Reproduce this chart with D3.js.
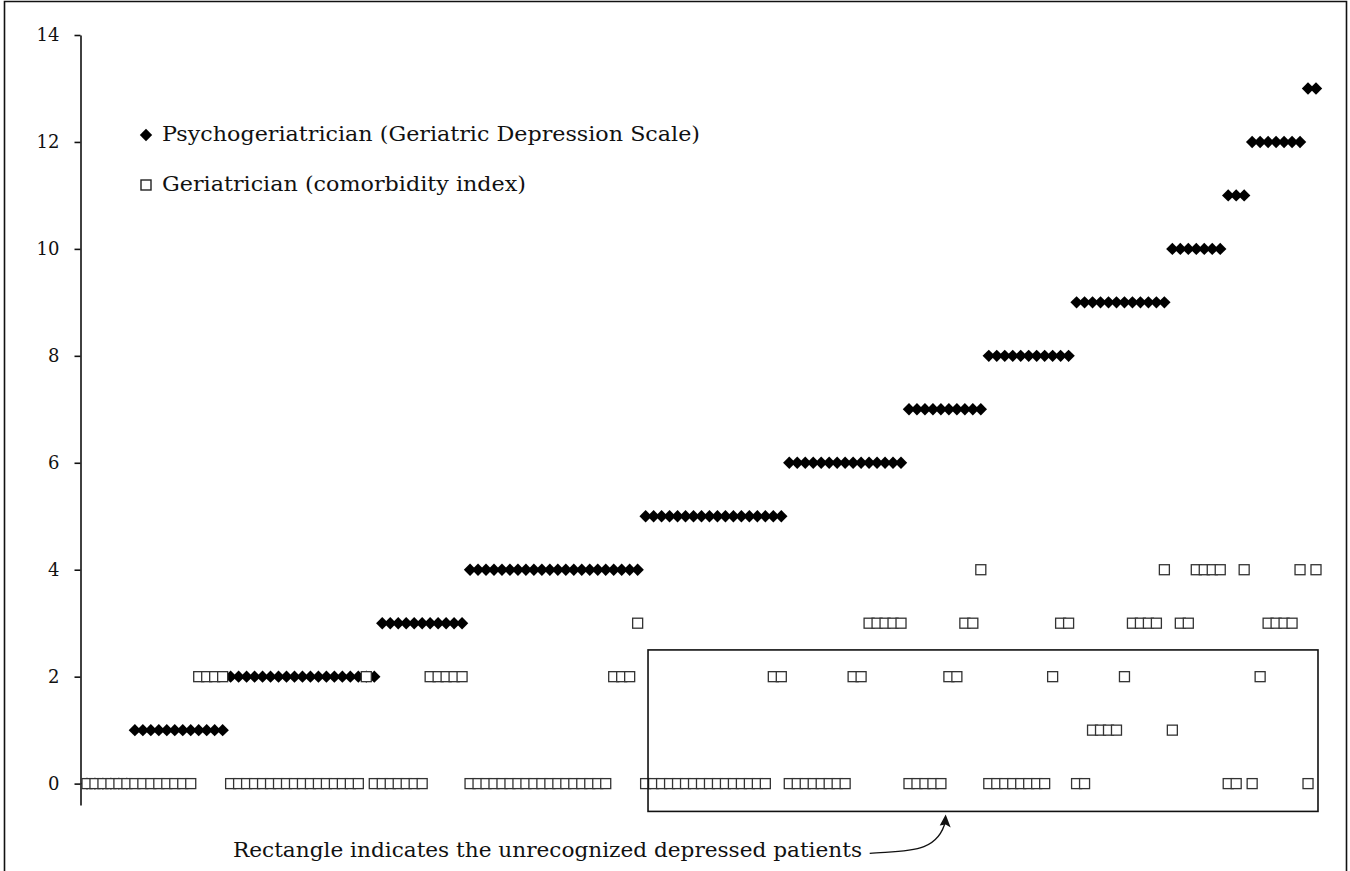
<!DOCTYPE html>
<html>
<head>
<meta charset="utf-8">
<script src="https://cdn.jsdelivr.net/npm/d3@7"></script>
<style>
  body { margin: 0; background: #fff; }
  svg { display: block; }
  text { font-family: "DejaVu Serif", "Liberation Serif", serif; fill: #111; }
</style>
</head>
<body>
<svg id="chart" width="1350" height="871"></svg>
<script>
// Y axis tick values
const yTicks = [0, 2, 4, 6, 8, 10, 12, 14];

// Geriatric Depression Scale score per patient (sorted ascending), patients 1..155
const gdsScores = [
  0,0,0,0,0,0,
  1,1,1,1,1,1,1,1,1,1,1,1,
  2,2,2,2,2,2,2,2,2,2,2,2,2,2,2,2,2,2,2,
  3,3,3,3,3,3,3,3,3,3,3,
  4,4,4,4,4,4,4,4,4,4,4,4,4,4,4,4,4,4,4,4,4,4,
  5,5,5,5,5,5,5,5,5,5,5,5,5,5,5,5,5,5,
  6,6,6,6,6,6,6,6,6,6,6,6,6,6,6,
  7,7,7,7,7,7,7,7,7,7,
  8,8,8,8,8,8,8,8,8,8,8,
  9,9,9,9,9,9,9,9,9,9,9,9,
  10,10,10,10,10,10,10,
  11,11,11,
  12,12,12,12,12,12,12,
  13,13
];

// Comorbidity index per patient, same patient order
const comorbidityIndex = [
  0,0,0,0,0,0,0,0,0,0,0,0,0,0,
  2,2,2,2,
  0,0,0,0,0,0,0,0,0,0,0,0,0,0,0,0,0,
  2,
  0,0,0,0,0,0,0,
  2,2,2,2,2,
  0,0,0,0,0,0,0,0,0,0,0,0,0,0,0,0,0,0,
  2,2,2,
  3,
  0,0,0,0,0,0,0,0,0,0,0,0,0,0,0,0,
  2,2,
  0,0,0,0,0,0,0,0,
  2,2,
  3,3,3,3,3,
  0,0,0,0,0,
  2,2,
  3,3,
  4,
  0,0,0,0,0,0,0,0,
  2,
  3,3,
  0,0,
  1,1,1,1,
  2,
  3,3,3,3,
  4,
  1,
  3,3,
  4,4,4,4,
  0,0,
  4,
  0,
  2,
  3,3,3,3,
  4,
  0,
  4
];

const legendLabels = [
  "Psychogeriatrician (Geriatric Depression Scale)",
  "Geriatrician (comorbidity index)"
];
const noteText = "Rectangle indicates the unrecognized depressed patients";

// Annotation box around the unrecognized depressed patients (patient number / score units)
const boxPatientFrom = 71.3;
const boxPatientTo = 155.25;
const boxScoreLow = -0.52;
const boxScoreHigh = 2.5;

const svg = d3.select("#chart");
const W = 1350, H = 871;

// page frame
svg.append("path")
  .attr("d", `M4.5,${H + 2} V1.5 H1346.5 V${H + 2}`)
  .attr("fill", "none").attr("stroke", "#111").attr("stroke-width", 1.6);

const patients = gdsScores.map((g, i) => ({ n: i + 1, gds: g, com: comorbidityIndex[i] }));

const x = d3.scaleLinear().domain([0, patients.length]).range([79, 1316]);
const y = d3.scaleLinear().domain([-0.4, 14]).range([805, 35]);

// y axis
const yAxis = d3.axisLeft(y).tickValues(yTicks).tickSize(6).tickSizeOuter(0).tickPadding(15);
const gy = svg.append("g").attr("transform", "translate(80.5,0)").call(yAxis);
gy.select(".domain").attr("stroke", "#111").attr("stroke-width", 1.6);
gy.selectAll(".tick line").attr("stroke", "#111").attr("stroke-width", 1.6);
gy.selectAll(".tick text")
  .attr("font-family", "DejaVu Serif, serif")
  .attr("font-size", 18).attr("fill", "#111");

// marker shapes
const diamond = (r) => `M0,${-r}L${r},0L0,${r}L${-r},0Z`;
const sq = 10;

// GDS diamonds
svg.append("g").selectAll("path")
  .data(patients).join("path")
  .attr("transform", d => `translate(${x(d.n)},${y(d.gds)})`)
  .attr("d", diamond(6.2))
  .attr("fill", "#000");

// comorbidity squares, drawn on top
svg.append("g").selectAll("rect")
  .data(patients).join("rect")
  .attr("x", d => x(d.n) - sq / 2)
  .attr("y", d => y(d.com) - sq / 2)
  .attr("width", sq).attr("height", sq)
  .attr("fill", "#fff").attr("stroke", "#333").attr("stroke-width", 1.3);

// annotation rectangle
svg.append("rect")
  .attr("x", x(boxPatientFrom))
  .attr("y", y(boxScoreHigh))
  .attr("width", x(boxPatientTo) - x(boxPatientFrom))
  .attr("height", y(boxScoreLow) - y(boxScoreHigh))
  .attr("fill", "none").attr("stroke", "#111").attr("stroke-width", 1.6);

// legend
const legend = svg.append("g");
legend.append("path").attr("transform", "translate(146,135)").attr("d", diamond(6.2)).attr("fill", "#000");
legend.append("rect").attr("x", 141).attr("y", 180).attr("width", sq).attr("height", sq)
  .attr("fill", "#fff").attr("stroke", "#222").attr("stroke-width", 1.4);
legend.append("text").attr("x", 162).attr("y", 141).attr("font-size", 20)
  .attr("textLength", 538).attr("lengthAdjust", "spacingAndGlyphs").text(legendLabels[0]);
legend.append("text").attr("x", 162).attr("y", 191).attr("font-size", 20)
  .attr("textLength", 364).attr("lengthAdjust", "spacingAndGlyphs").text(legendLabels[1]);

// note with curved arrow pointing at the rectangle
svg.append("text").attr("x", 233).attr("y", 857).attr("font-size", 20)
  .attr("textLength", 629).attr("lengthAdjust", "spacingAndGlyphs").text(noteText);
const tipX = x(108.6), tipY = y(boxScoreLow) + 3;
svg.append("path")
  .attr("d", `M${tipX - 76},${tipY + 39} C${tipX - 40},${tipY + 36} ${tipX - 8},${tipY + 40} ${tipX},${tipY + 6}`)
  .attr("fill", "none").attr("stroke", "#111").attr("stroke-width", 1.4);
svg.append("path")
  .attr("d", `M${tipX},${tipY} L${tipX + 5},${tipY + 13} L${tipX},${tipY + 10} L${tipX - 6},${tipY + 11} Z`)
  .attr("fill", "#111");
</script>
</body>
</html>
